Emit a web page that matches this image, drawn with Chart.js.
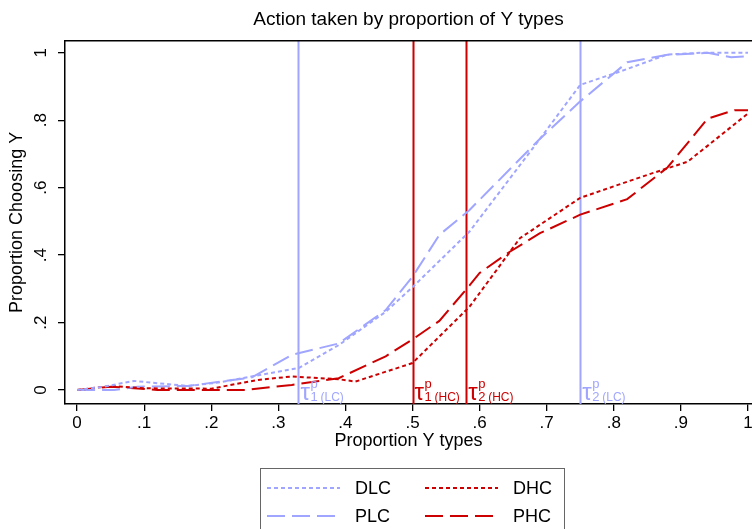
<!DOCTYPE html>
<html>
<head>
<meta charset="utf-8">
<script src="https://cdn.jsdelivr.net/npm/chart.js@4.4.1/dist/chart.umd.min.js"></script>
<style>
  html, body { margin: 0; padding: 0; background: #fff; }
</style>
</head>
<body>
<canvas id="myChart" width="752" height="529"></canvas>
<script>
const FONT = "'Liberation Sans', Arial, sans-serif";
const LC_BLUE = 'rgb(160,166,255)';
const HC_RED = 'rgb(204,0,0)';

// share choosing Y, by proportion of Y types
const dlcX = [0, 0.04, 0.085, 0.12, 0.165, 0.21, 0.26, 0.33, 0.39, 0.46, 0.50, 0.585, 0.69, 0.75, 0.81, 0.88, 0.93, 1.0];
const dlcY = [0, 0.01, 0.027, 0.02, 0.012, 0.022, 0.04, 0.065, 0.133, 0.232, 0.305, 0.47, 0.745, 0.905, 0.945, 0.995, 1.0, 1.0];

const dhcX = [0, 0.05, 0.1, 0.2, 0.27, 0.32, 0.39, 0.415, 0.50, 0.585, 0.625, 0.66, 0.69, 0.75, 0.85, 0.91, 1.0];
const dhcY = [0, 0.012, 0.005, 0.004, 0.03, 0.04, 0.032, 0.025, 0.08, 0.247, 0.355, 0.45, 0.49, 0.57, 0.638, 0.677, 0.82];

const plcX = [0, 0.055, 0.09, 0.165, 0.26, 0.32, 0.39, 0.46, 0.50, 0.54, 0.585, 0.69, 0.75, 0.82, 0.88, 0.94, 0.975, 1.0];
const plcY = [0, 0, 0.01, 0.012, 0.037, 0.104, 0.138, 0.237, 0.336, 0.46, 0.534, 0.745, 0.856, 0.972, 0.994, 1.0, 0.987, 0.99];

const phcX = [0, 0.05, 0.12, 0.25, 0.32, 0.39, 0.46, 0.50, 0.54, 0.585, 0.60, 0.645, 0.69, 0.75, 0.82, 0.88, 0.94, 0.98, 1.0];
const phcY = [0, 0.01, 0, 0, 0.015, 0.035, 0.10, 0.15, 0.205, 0.31, 0.347, 0.41, 0.465, 0.52, 0.566, 0.66, 0.805, 0.83, 0.83];

// tau thresholds (vertical lines)
const tauX = [0.33, 0.5, 0.58, 0.75];
const tauIndex = ['1', '1', '2', '2'];
const tauGroup = ['LC', 'HC', 'HC', 'LC'];

const xTicks = [0, 0.1, 0.2, 0.3, 0.4, 0.5, 0.6, 0.7, 0.8, 0.9, 1];
const xTickLabels = ['0', '.1', '.2', '.3', '.4', '.5', '.6', '.7', '.8', '.9', '1'];
const yTicks = [0, 0.2, 0.4, 0.6, 0.8, 1];
const yTickLabels = ['0', '.2', '.4', '.6', '.8', '1'];

const SHORT_DASH = [4, 3];
const LONG_DASH = [18, 7];

function pts(xs, ys) {
    return xs.map((x, i) => ({ x: x, y: ys[i] }));
}

function line(label, xs, ys, color, dash) {
    return {
        label: label,
        data: pts(xs, ys),
        borderColor: color,
        backgroundColor: color,
        borderWidth: 2,
        borderDash: dash,
        pointRadius: 0,
        tension: 0,
        fill: false
    };
}

// frame top edge, rotated y labels, tau lines, boxed legend
const extras = {
    id: 'extras',
    beforeDatasetsDraw(chart) {
        const { ctx, chartArea: a, scales } = chart;
        ctx.save();
        tauX.forEach((v, i) => {
            const px = Math.round(scales.x.getPixelForValue(v)) + 0.5;
            ctx.strokeStyle = tauGroup[i] === 'LC' ? LC_BLUE : HC_RED;
            ctx.lineWidth = 2;
            ctx.beginPath();
            ctx.moveTo(px, a.top);
            ctx.lineTo(px, a.bottom);
            ctx.stroke();
        });
        ctx.restore();
    },
    afterDraw(chart) {
        const { ctx, chartArea: a, scales } = chart;
        ctx.save();

        ctx.strokeStyle = '#000';
        ctx.lineWidth = 1.5;
        ctx.beginPath();
        ctx.moveTo(a.left, a.top);
        ctx.lineTo(a.right + 2, a.top);
        ctx.stroke();

        ctx.fillStyle = '#000';
        ctx.font = '17px ' + FONT;
        ctx.textAlign = 'center';
        ctx.textBaseline = 'middle';
        yTicks.forEach((v, i) => {
            const py = scales.y.getPixelForValue(v);
            ctx.save();
            ctx.translate(41, py);
            ctx.rotate(-Math.PI / 2);
            ctx.fillText(yTickLabels[i], 0, 0);
            ctx.restore();
        });

        ctx.textAlign = 'left';
        ctx.textBaseline = 'alphabetic';
        tauX.forEach((v, i) => {
            const bx = scales.x.getPixelForValue(v) + 2;
            ctx.fillStyle = tauGroup[i] === 'LC' ? LC_BLUE : HC_RED;
            ctx.font = '24px ' + FONT;
            ctx.fillText('\u03c4', bx, 400);
            ctx.font = '13px ' + FONT;
            ctx.fillText('p', bx + 10, 388);
            ctx.fillText(tauIndex[i], bx + 10, 401);
            ctx.font = '12px ' + FONT;
            ctx.fillText('(' + tauGroup[i] + ')', bx + 20, 401);
        });

        // legend box, two columns
        ctx.strokeStyle = '#666';
        ctx.lineWidth = 1;
        ctx.strokeRect(260.5, 468.5, 304, 80);
        const colX = [267, 425];
        const rowY = [488, 516];
        ctx.font = '18px ' + FONT;
        ctx.textBaseline = 'middle';
        chart.data.datasets.forEach((ds, i) => {
            const x0 = colX[i % 2];
            const y0 = rowY[Math.floor(i / 2)];
            ctx.strokeStyle = ds.borderColor;
            ctx.lineWidth = 2;
            ctx.setLineDash(ds.borderDash);
            ctx.beginPath();
            ctx.moveTo(x0, y0);
            ctx.lineTo(x0 + 73, y0);
            ctx.stroke();
            ctx.setLineDash([]);
            ctx.fillStyle = '#000';
            ctx.fillText(ds.label, x0 + 88, y0 + 1);
        });

        ctx.restore();
    }
};

const myChart = new Chart(document.getElementById('myChart'), {
    type: 'line',
    data: {
        datasets: [
            line('DLC', dlcX, dlcY, LC_BLUE, SHORT_DASH),
            line('DHC', dhcX, dhcY, HC_RED, SHORT_DASH),
            line('PLC', plcX, plcY, LC_BLUE, LONG_DASH),
            line('PHC', phcX, phcY, HC_RED, LONG_DASH)
        ]
    },
    options: {
        responsive: false,
        animation: false,
        devicePixelRatio: 1,
        layout: { padding: { left: 0, right: 0, top: 0, bottom: 77 } },
        plugins: {
            legend: { display: false },
            tooltip: { enabled: false },
            title: {
                display: true,
                text: 'Action taken by proportion of Y types',
                color: '#000',
                fullSize: false,
                font: { family: FONT, size: 19, weight: 'normal' },
                padding: { top: 8, bottom: 10 }
            }
        },
        scales: {
            x: {
                type: 'linear',
                min: -0.018,
                max: 1.006,
                afterBuildTicks: s => { s.ticks = xTicks.map(v => ({ value: v })); },
                afterFit: s => { s.height = 48; s.paddingLeft = 0; s.paddingRight = 0; },
                ticks: {
                    callback: (v, i) => xTickLabels[i],
                    color: '#000',
                    font: { family: FONT, size: 17 },
                    padding: 2,
                    maxRotation: 0,
                    autoSkip: false
                },
                grid: { drawOnChartArea: false, tickLength: 7, color: '#000', lineWidth: 1.3 },
                border: { color: '#000', width: 1.5 },
                title: {
                    display: true,
                    text: 'Proportion Y types',
                    color: '#000',
                    font: { family: FONT, size: 18 },
                    padding: 0
                }
            },
            y: {
                type: 'linear',
                min: -0.0415,
                max: 1.0356,
                afterBuildTicks: s => { s.ticks = yTicks.map(v => ({ value: v })); },
                afterFit: s => { s.width = 65; s.paddingTop = 0; s.paddingBottom = 0; },
                ticks: { display: false },
                grid: { drawOnChartArea: false, tickLength: 7, color: '#000', lineWidth: 1.3 },
                border: { color: '#000', width: 1.5 },
                title: {
                    display: true,
                    text: 'Proportion Choosing Y',
                    color: '#000',
                    font: { family: FONT, size: 18 },
                    padding: { top: 6, bottom: 0 }
                }
            }
        }
    },
    plugins: [extras]
});
</script>
</body>
</html>
